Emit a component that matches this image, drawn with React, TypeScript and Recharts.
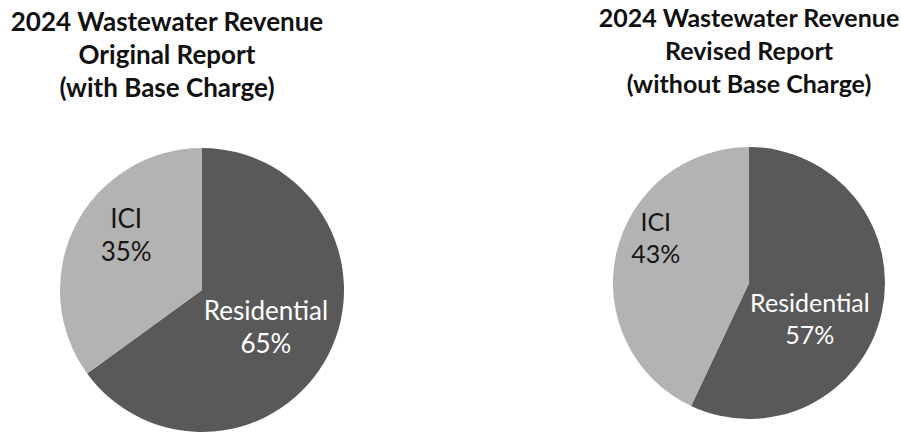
import { PieChart, Pie, Cell } from "recharts";

const categories = ["Residential", "ICI"];
const originalShares = [65, 35];
const revisedShares = [57, 43];
const originalTitle = ["2024 Wastewater Revenue", "Original Report", "(with Base Charge)"];
const revisedTitle = ["2024 Wastewater Revenue", "Revised Report", "(without Base Charge)"];

const SLICE_COLORS = ["#595959", "#b3b3b3"];
const LABEL_COLORS = ["#ffffff", "#151515"];
const FONT = "Lato, 'Open Sans', sans-serif";
const RAD = Math.PI / 180;

const originalData = categories.map((name, i) => ({ name, value: originalShares[i] }));
const revisedData = categories.map((name, i) => ({ name, value: revisedShares[i] }));

// label placement: fraction of radius + clockwise nudge in degrees (Excel puts them a bit off-centre)
type Place = { f: number; shift: number };

function makeLabel(place: Place[], size: number, gap: number) {
  return (props: any) => {
    const { cx, cy, midAngle, outerRadius, index, value } = props;
    const name = props.name ?? props.payload?.name;
    const p = place[index];
    const a = (midAngle - p.shift) * RAD;
    const x = cx + outerRadius * p.f * Math.cos(a);
    const yc = cy - outerRadius * p.f * Math.sin(a);
    const y1 = yc - gap / 2 + size * 0.36;
    return (
      <text textAnchor="middle" fill={LABEL_COLORS[index]} fontSize={size} fontFamily={FONT}>
        <tspan x={x} y={y1}>{name}</tspan>
        <tspan x={x} y={y1 + gap}>{value}%</tspan>
      </text>
    );
  };
}

function Title({ lines, x, y, size }: { lines: string[]; x: number; y: number; size: number }) {
  return (
    <text textAnchor="middle" fontSize={size} fontWeight="bold" fontFamily={FONT} fill="#111">
      {lines.map((l, i) => (
        <tspan key={i} x={x} y={y + i * 33}>
          {l}
        </tspan>
      ))}
    </text>
  );
}

export default function App() {
  return (
    <div style={{ position: "absolute", left: 0, top: 0, width: 901, height: 433, background: "#fff" }}>
      <PieChart width={901} height={433} margin={{ top: 0, right: 0, bottom: 0, left: 0 }}>
        <Pie
          data={originalData}
          dataKey="value"
          nameKey="name"
          cx={202}
          cy={290}
          outerRadius={142}
          startAngle={90}
          endAngle={-270}
          stroke="none"
          labelLine={false}
          label={makeLabel(
            [
              { f: 0.52, shift: 3 },
              { f: 0.66, shift: 9 },
            ],
            26,
            33
          )}
          isAnimationActive={false}
        >
          {originalData.map((d, i) => (
            <Cell key={d.name} fill={SLICE_COLORS[i]} />
          ))}
        </Pie>
        <Pie
          data={revisedData}
          dataKey="value"
          nameKey="name"
          cx={749}
          cy={283}
          outerRadius={136}
          startAngle={90}
          endAngle={-270}
          stroke="none"
          labelLine={false}
          label={makeLabel(
            [
              { f: 0.52, shift: 18 },
              { f: 0.76, shift: 13 },
            ],
            25,
            32
          )}
          isAnimationActive={false}
        >
          {revisedData.map((d, i) => (
            <Cell key={d.name} fill={SLICE_COLORS[i]} />
          ))}
        </Pie>
      </PieChart>
      <svg width={901} height={433} style={{ position: "absolute", left: 0, top: 0, pointerEvents: "none" }}>
        <Title lines={originalTitle} x={167} y={31} size={26} />
        <Title lines={revisedTitle} x={749} y={27} size={25} />
      </svg>
    </div>
  );
}
